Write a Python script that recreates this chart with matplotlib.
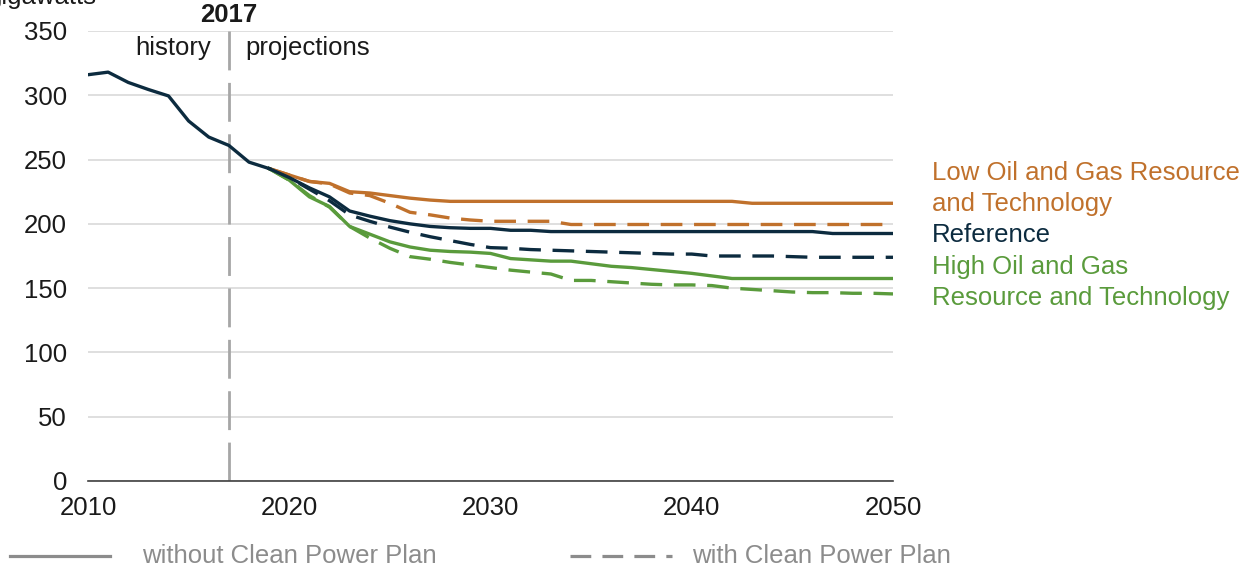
import matplotlib
matplotlib.use("Agg")
import matplotlib.pyplot as plt
from matplotlib.lines import Line2D

plt.rcParams['font.family'] = ['Liberation Sans', 'DejaVu Sans']

hist_years = list(range(2010, 2020))
history = [316, 318, 310, 304.5, 299.5, 280, 267.5, 261, 248, 243]

proj_years = list(range(2019, 2051))
low_no_cpp = [243, 238, 233, 231.5, 225, 224, 222, 220, 218.5, 217.5,
              217.5, 217.5, 217.5, 217.5, 217.5, 217.5, 217.5, 217.5, 217.5, 217.5,
              217.5, 217.5, 217.5, 217.5, 216, 216, 216, 216, 216, 216, 216, 216]
low_cpp = [243, 238, 233, 231, 224, 222, 216, 209, 207, 204.5,
           203, 202, 202, 202, 202, 199.5, 199.5, 199.5, 199.5, 199.5,
           199.5, 199.5, 199.5, 199.5, 199.5, 199.5, 199.5, 199.5, 199.5, 199.5, 199.5, 199.5]
ref_no_cpp = [243, 236, 228, 221, 210, 206, 202.5, 200, 198, 197,
              196.5, 196.5, 195, 195, 194, 194, 194, 194, 194, 194,
              194, 194, 194, 194, 194, 194, 194, 194, 192.5, 192.5, 192.5, 192.5]
ref_cpp = [243, 236, 227, 218, 207, 202, 197.5, 193.5, 190, 187,
           184, 181.5, 181, 180, 179.5, 179, 178.5, 178, 177.5, 177,
           176.5, 176.5, 175, 175, 175, 175, 174.5, 174, 174, 174, 174, 174]
high_no_cpp = [243, 234, 221, 213.5, 198, 192, 186, 182, 179.5, 178.5,
               178, 177, 173, 172, 171, 171, 169, 167, 166, 164.5,
               163, 161.5, 159.5, 157.5, 157.5, 157.5, 157.5, 157.5, 157.5, 157.5, 157.5, 157.5]
high_cpp = [243, 234, 222, 213, 198, 189, 181, 174.5, 172.5, 170,
            168, 166, 164, 162.5, 161, 156, 156, 155, 154, 153,
            152.5, 152.5, 152, 150, 149, 148, 147, 146.5, 146.5, 146, 146, 145.5]

x_ticks = [2010, 2020, 2030, 2040, 2050]
y_ticks = [0, 50, 100, 150, 200, 250, 300, 350]

ORANGE = "#C0712C"
NAVY = "#0C2B3F"
GREEN = "#5A9B3C"
GRAY = "#8C8C8C"
FS = 18.5

fig = plt.figure(figsize=(12.52, 5.68), dpi=100)
ax = fig.add_axes([88/1252, 87/568, 805/1252, 450/568])

ax.set_xlim(2010, 2050)
ax.set_ylim(0, 350)
ax.set_yticks(y_ticks)
ax.set_xticks(x_ticks)
ax.grid(axis='y', color='#D9D9D9', lw=1.2)
ax.set_axisbelow(True)
for s in ['top', 'right', 'left']:
    ax.spines[s].set_visible(False)
ax.spines['bottom'].set_color('#404040')
ax.spines['bottom'].set_linewidth(1.2)
ax.tick_params(axis='both', length=0, labelsize=FS, colors='#1a1a1a')
ax.tick_params(axis='y', pad=15)
ax.tick_params(axis='x', pad=11)

lw = 2.4
dash = (6.5, 3.5)
ax.plot(proj_years, low_cpp, color=ORANGE, lw=lw, dashes=dash)
ax.plot(proj_years, ref_cpp, color=NAVY, lw=lw, dashes=dash)
ax.plot(proj_years, high_cpp, color=GREEN, lw=lw, dashes=dash)
ax.plot(proj_years, low_no_cpp, color=ORANGE, lw=lw)
ax.plot(proj_years, high_no_cpp, color=GREEN, lw=lw)
ax.plot(proj_years, ref_no_cpp, color=NAVY, lw=lw)
ax.plot(hist_years, history, color=NAVY, lw=lw)

ax.axvline(2017, color='#A6A6A6', lw=2.0, dashes=(14, 4.5), zorder=1)
ax.text(2017, 353.5, "2017", ha='center', va='bottom', fontsize=FS, fontweight='bold', color='#1a1a1a')
ax.text(2016.1, 346, "history", ha='right', va='top', fontsize=FS, color='#1a1a1a')
ax.text(2017.8, 346, "projections", ha='left', va='top', fontsize=FS, color='#1a1a1a')

fig.text(-12/1252, 1 - 4/568, "gigawatts", ha='left', va='baseline', fontsize=FS, color='#1a1a1a')

# right labels
lx = 932/1252
fig.text(lx, 1 - 173/568, "Low Oil and Gas Resource", ha='left', va='center', fontsize=FS, color=ORANGE)
fig.text(lx, 1 - 204/568, "and Technology", ha='left', va='center', fontsize=FS, color=ORANGE)
fig.text(lx, 1 - 235/568, "Reference", ha='left', va='center', fontsize=FS, color=NAVY)
fig.text(lx, 1 - 267/568, "High Oil and Gas", ha='left', va='center', fontsize=FS, color=GREEN)
fig.text(lx, 1 - 298/568, "Resource and Technology", ha='left', va='center', fontsize=FS, color=GREEN)

# bottom legend
ly = 1 - 556/568
fig.add_artist(Line2D([10/1252, 110/1252], [ly, ly], color=GRAY, lw=2.3))
fig.text(142/1252, ly, "without Clean Power Plan", ha='left', va='center', fontsize=FS, color=GRAY)
fig.add_artist(Line2D([570/1252, 672/1252], [ly, ly], color=GRAY, lw=2.3, dashes=(6.5, 3.5)))
fig.text(692/1252, ly, "with Clean Power Plan", ha='left', va='center', fontsize=FS, color=GRAY)

fig.savefig("out.png", dpi=100)
